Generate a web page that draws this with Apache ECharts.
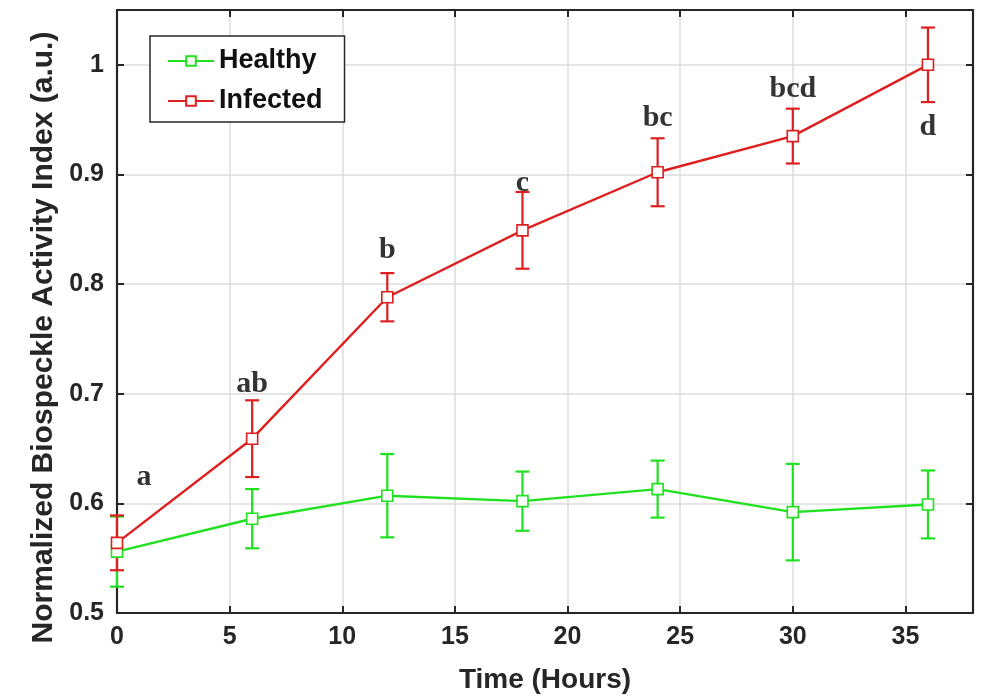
<!DOCTYPE html>
<html>
<head>
<meta charset="utf-8">
<script src="https://cdn.jsdelivr.net/npm/echarts@6/dist/echarts.min.js"></script>
<style>
  html, body { margin: 0; padding: 0; background: #fff; }
  #chart { width: 982px; height: 695px; }
</style>
</head>
<body>
<div id="chart"></div>
<script>
// Sampling times (hours)
const hours = [0, 6, 12, 18, 24, 30, 36];

// Healthy leaves: mean index and standard deviation
const healthyMean = [0.556, 0.586, 0.607, 0.602, 0.613, 0.592, 0.599];
const healthyErr  = [0.032, 0.027, 0.038, 0.027, 0.026, 0.044, 0.031];

// Infected leaves: mean index and standard deviation
const infectedMean = [0.564, 0.659, 0.788, 0.849, 0.902, 0.935, 1.000];
const infectedErr  = [0.025, 0.035, 0.022, 0.035, 0.031, 0.025, 0.034];

// Significance letters and where they sit (x in hours, y in index units)
const letters  = ['a', 'ab', 'b', 'c', 'bc', 'bcd', 'd'];
const letterX  = [1.2, 6, 12, 18, 24, 30, 36];
const letterY  = [0.624, 0.709, 0.831, 0.892, 0.951, 0.978, 0.943];

const GREEN = '#1fe11f';
const RED = '#dd1f1f';
const AXIS = '#262626';
const FONT = 'Arial, "Liberation Sans", sans-serif';

function pairs(xs, ys) { return xs.map((x, i) => [x, ys[i]]); }
function bars(xs, ys, es) { return xs.map((x, i) => [x, ys[i] - es[i], ys[i] + es[i]]); }

function errorBarSeries(data, color) {
  return {
    type: 'custom',
    silent: true,
    z: 2,
    data: data,
    encode: { x: 0, y: [1, 2] },
    renderItem: function (params, api) {
      const x = api.value(0);
      const lo = api.coord([x, api.value(1)]);
      const hi = api.coord([x, api.value(2)]);
      const cap = 7;
      const style = { stroke: color, lineWidth: 2.2, fill: null };
      return {
        type: 'group',
        children: [
          { type: 'line', shape: { x1: lo[0], y1: lo[1], x2: hi[0], y2: hi[1] }, style: style },
          { type: 'line', shape: { x1: lo[0] - cap, y1: lo[1], x2: lo[0] + cap, y2: lo[1] }, style: style },
          { type: 'line', shape: { x1: hi[0] - cap, y1: hi[1], x2: hi[0] + cap, y2: hi[1] }, style: style }
        ]
      };
    }
  };
}

const chart = echarts.init(document.getElementById('chart'), null, { renderer: 'canvas' });

const tickStyle = { show: true, inside: true, length: 7, lineStyle: { color: AXIS, width: 2 } };
const frameLine = { show: true, onZero: false, lineStyle: { color: AXIS, width: 2.2 } };

chart.setOption({
  animation: false,
  backgroundColor: '#fff',
  grid: { left: 117, right: 9, top: 10, bottom: 82, containLabel: false, outerBoundsMode: 'none' },
  legend: {
    left: 150,
    top: 36,
    orient: 'vertical',
    data: ['Healthy', 'Infected'],
    itemWidth: 46,
    itemHeight: 12,
    itemGap: 10,
    padding: [10, 22, 6, 17],
    borderColor: AXIS,
    borderWidth: 1.5,
    backgroundColor: '#fff',
    textStyle: { fontFamily: FONT, fontWeight: 'bold', fontSize: 27, color: '#111', lineHeight: 30 }
  },
  xAxis: [
    {
      type: 'value',
      min: 0, max: 38, interval: 5,
      position: 'bottom',
      name: 'Time (Hours)',
      nameLocation: 'middle',
      nameGap: 53,
      nameTextStyle: { fontFamily: FONT, fontWeight: 'bold', fontSize: 28, color: '#262626' },
      axisLine: frameLine,
      axisTick: tickStyle,
      axisLabel: {
        margin: 12,
        fontFamily: FONT, fontWeight: 'bold', fontSize: 25, color: '#262626',
        formatter: v => (v % 5 === 0 ? String(v) : '')
      },
      splitLine: { show: true, lineStyle: { color: '#dcdcdc', width: 1.5 } }
    },
    {
      type: 'value',
      min: 0, max: 38, interval: 5,
      position: 'top',
      axisLine: frameLine,
      axisTick: tickStyle,
      axisLabel: { show: false },
      splitLine: { show: false }
    }
  ],
  yAxis: [
    {
      type: 'value',
      min: 0.5, max: 1.05, interval: 0.1,
      position: 'left',
      name: 'Normalized Biospeckle Activity Index (a.u.)',
      nameLocation: 'middle',
      nameGap: 55,
      nameTextStyle: {
        fontFamily: FONT, fontWeight: 'bold', fontSize: 30, color: '#262626',
        padding: [0, 52, 0, 0]
      },
      axisLine: frameLine,
      axisTick: tickStyle,
      axisLabel: {
        margin: 13,
        fontFamily: FONT, fontWeight: 'bold', fontSize: 25, color: '#262626',
        formatter: function (v) {
          const r = Math.round(v * 10) / 10;
          return Math.abs(r - v) < 1e-6 ? String(r) : '';
        }
      },
      splitLine: { show: true, lineStyle: { color: '#dcdcdc', width: 1.5 } }
    },
    {
      type: 'value',
      min: 0.5, max: 1.05, interval: 0.1,
      position: 'right',
      axisLine: frameLine,
      axisTick: tickStyle,
      axisLabel: { show: false },
      splitLine: { show: false }
    }
  ],
  series: [
    errorBarSeries(bars(hours, healthyMean, healthyErr), GREEN),
    {
      name: 'Healthy',
      type: 'line',
      z: 3,
      data: pairs(hours, healthyMean),
      symbol: 'rect',
      symbolSize: 11,
      showAllSymbol: true,
      lineStyle: { color: GREEN, width: 2.4 },
      itemStyle: { color: '#fff', borderColor: GREEN, borderWidth: 1.6 }
    },
    errorBarSeries(bars(hours, infectedMean, infectedErr), RED),
    {
      name: 'Infected',
      type: 'line',
      z: 3,
      data: pairs(hours, infectedMean),
      symbol: 'rect',
      symbolSize: 11,
      showAllSymbol: true,
      lineStyle: { color: RED, width: 2.4 },
      itemStyle: { color: '#fff', borderColor: RED, borderWidth: 1.6 }
    },
    {
      type: 'scatter',
      silent: true,
      z: 4,
      symbolSize: 1,
      itemStyle: { color: 'rgba(0,0,0,0)' },
      data: letterX.map((x, i) => ({ value: [x, letterY[i]], name: letters[i] })),
      label: {
        show: true,
        position: 'inside',
        formatter: p => p.name,
        fontFamily: '"Liberation Serif", "Times New Roman", serif',
        fontWeight: 'bold',
        fontSize: 30,
        color: '#000'
      }
    }
  ]
});
</script>
</body>
</html>
